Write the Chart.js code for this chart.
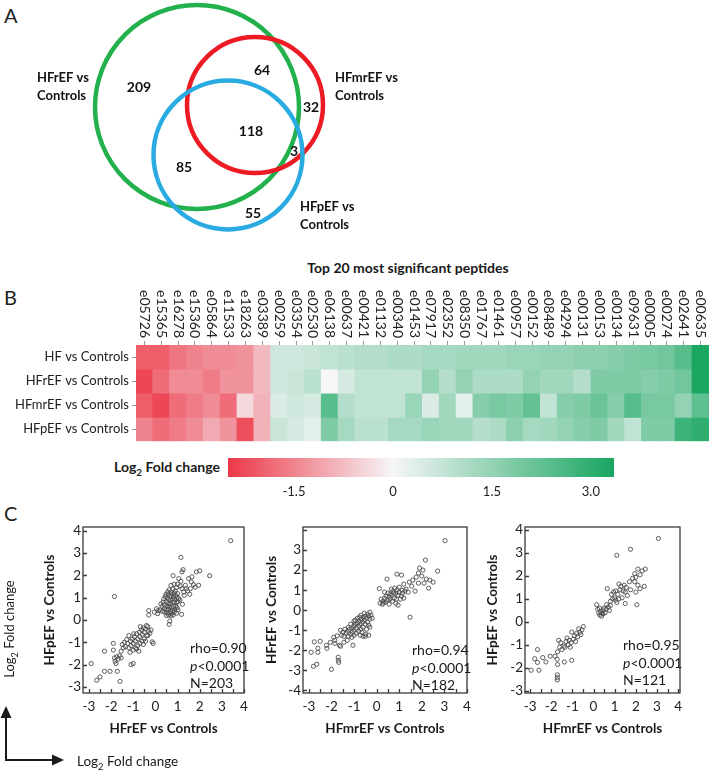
<!DOCTYPE html>
<html lang="en">
<head>
<meta charset="UTF-8">
<title>Peptide fold change</title>
<script src="https://cdn.jsdelivr.net/npm/chart.js"></script>
<style>
  body { margin: 0; background: #fff; font-family: Lato, sans-serif; color: #1a1a1a; }
  #page { position: relative; width: 709px; height: 770px; overflow: hidden; }
  canvas, .txt, svg { position: absolute; }
  .txt { white-space: nowrap; }
  .letter { font-size: 20px; line-height: 20px; color: #222; }
  .stat { font-size: 14px; line-height: 17.5px; color: #1a1a1a; }
  sub { font-size: 70%; line-height: 0; }
</style>
</head>
<body>
<div id="page">
  <div class="txt letter" style="left:4px;top:5px">A</div>
  <div class="txt letter" style="left:4px;top:287px">B</div>
  <div class="txt letter" style="left:4px;top:503px">C</div>

  <canvas id="venn" width="400" height="240" style="left:0;top:0"></canvas>

  <div class="txt" style="left:258px;top:259px;width:300px;text-align:center;font-weight:bold;font-size:14px;line-height:18px">Top 20 most significant peptides</div>
  <canvas id="heat" width="709" height="176" style="left:0;top:276px"></canvas>

  <div class="txt" style="left:80px;top:458px;width:140px;text-align:right;font-weight:bold;font-size:14px;line-height:18px">Log<sub>2</sub> Fold change</div>
  <canvas id="cbar" width="440" height="55" style="left:200px;top:452px"></canvas>

  <canvas id="sc1" width="215" height="230" style="left:40px;top:515px"></canvas>
  <canvas id="sc2" width="216" height="230" style="left:262px;top:515px"></canvas>
  <canvas id="sc3" width="208" height="230" style="left:483px;top:515px"></canvas>
  <div id="st1" class="txt stat" style="left:190px;top:639px"></div>
  <div id="st2" class="txt stat" style="left:412px;top:641px"></div>
  <div id="st3" class="txt stat" style="left:623px;top:636px"></div>

  <svg width="80" height="110" style="left:0;top:660px">
    <line x1="6" y1="100" x2="6" y2="57" stroke="#1a1a1a" stroke-width="2"/>
    <polygon points="6,46 0.5,58 11.5,58" fill="#1a1a1a"/>
    <line x1="5" y1="100" x2="53" y2="100" stroke="#1a1a1a" stroke-width="2"/>
    <polygon points="64,100 52,94.5 52,105.5" fill="#1a1a1a"/>
  </svg>
  <div class="txt" style="left:9px;top:629px;transform:translate(-50%,-50%) rotate(-90deg);font-size:13px">Log<sub>2</sub> Fold change</div>
  <div class="txt" style="left:77px;top:752px;font-size:13.5px;line-height:18px">Log<sub>2</sub> Fold change</div>
</div>

<script>
// ---------- A: Venn diagram ----------
const vennSets = ['HFrEF vs Controls', 'HFmrEF vs Controls', 'HFpEF vs Controls'];
const vennCx = [197, 255, 228];
const vennCy = [107, 105, 155];
const vennR = [102, 68, 74.5];
// regions: rEF only, rEF+mrEF, mrEF only, all three, mrEF+pEF, rEF+pEF, pEF only
const vennCounts = [209, 64, 32, 118, 3, 85, 55];

// ---------- B: heatmap ----------
const peptides = ['e05726', 'e15365', 'e16278', 'e15360', 'e05864', 'e11533', 'e18263', 'e03389',
  'e00259', 'e03354', 'e02530', 'e06138', 'e00637', 'e00421', 'e01132', 'e00340', 'e01453',
  'e07917', 'e02352', 'e08350', 'e01767', 'e01461', 'e00957', 'e00152', 'e08489', 'e04294',
  'e00131', 'e00153', 'e00134', 'e09631', 'e00005', 'e00274', 'e02641', 'e00635'];
const comparisons = ['HF vs Controls', 'HFrEF vs Controls', 'HFmrEF vs Controls', 'HFpEF vs Controls'];
const foldHF = [-2.0, -2.0, -1.7, -1.5, -1.4, -1.4, -1.3, -0.8, 0.6, 0.6, 0.7, 0.8, 0.9, 1.0, 1.0, 1.1, 1.1,
  1.2, 1.2, 1.3, 1.3, 1.3, 1.4, 1.4, 1.5, 1.5, 1.6, 1.6, 1.7, 1.8, 1.9, 2.0, 2.4, 3.3];
const foldHFrEF = [-2.3, -1.8, -1.4, -1.4, -1.6, -1.3, -1.3, -0.8, 0.6, 0.7, 0.9, 0.0, 0.5, 0.8, 0.8, 0.8, 0.8,
  1.5, 1.0, 1.5, 1.1, 1.1, 1.1, 1.5, 1.3, 1.3, 1.0, 1.8, 1.8, 1.8, 1.7, 1.8, 2.0, 3.3];
const foldHFmrEF = [-2.0, -2.3, -1.8, -1.6, -1.4, -1.8, -0.4, -0.9, 0.4, 0.6, 0.5, 2.4, 1.0, 0.8, 0.8, 0.8, 1.4,
  0.4, 1.3, 0.3, 1.7, 1.9, 1.8, 2.2, 0.8, 1.7, 1.8, 2.1, 1.7, 2.4, 1.9, 1.9, 1.5, 2.3];
const foldHFpEF = [-1.5, -1.8, -1.6, -1.4, -1.0, -1.3, -2.2, -0.9, 0.7, 0.5, 0.3, 1.8, 1.2, 0.9, 0.9, 1.2, 1.2,
  1.4, 1.3, 1.3, 1.0, 1.1, 1.6, 1.2, 1.3, 1.5, 1.7, 1.8, 1.3, 0.8, 1.8, 1.8, 2.8, 3.0];
const cbMin = -2.5, cbMax = 3.35;
const cbTicks = [-1.5, 0, 1.5, 3.0];

// ---------- C: scatter plots ----------
const hfrefVsHfpef = [
  [3.4, 3.55], [1.15, 2.8], [2.45, 1.98], [1.85, 2.15], [2.0, 2.2], [1.25, 2.25], [1.2, 2.15], [0.8, 1.98],
  [1.05, 1.85], [1.65, 1.93], [1.5, 1.85], [1.62, 1.7], [1.72, 1.58], [1.8, 1.47], [1.95, 1.55], [1.58, 1.4],
  [1.4, 1.4], [1.28, 1.25], [1.15, 1.73], [1.0, 1.6], [1.35, 1.55], [1.45, 1.3], [1.2, 1.4], [1.12, 1.52],
  [0.95, 1.45], [1.0, 1.18], [1.55, 1.15], [1.3, 1.1], [1.1, 0.9], [1.22, 0.7], [1.18, 0.25], [1.02, 0.45],
  [0.9, 1.3], [0.85, 1.2], [0.78, 1.38], [0.7, 1.25], [0.62, 1.35], [0.58, 1.12], [0.68, 1.05], [0.75, 1.15],
  [0.82, 1.05], [0.92, 1.1], [0.98, 1.0], [1.05, 0.95], [0.88, 0.92], [0.78, 0.95], [0.7, 0.88], [0.6, 0.92],
  [0.52, 0.98], [0.45, 1.05], [0.5, 0.82], [0.6, 0.75], [0.68, 0.7], [0.78, 0.78], [0.85, 0.8], [0.95, 0.78],
  [1.02, 0.82], [0.92, 0.62], [0.82, 0.6], [0.72, 0.55], [0.62, 0.6], [0.52, 0.62], [0.42, 0.68], [0.35, 0.8],
  [0.3, 0.6], [0.4, 0.52], [0.48, 0.45], [0.58, 0.48], [0.68, 0.4], [0.78, 0.42], [0.88, 0.48], [0.98, 0.55],
  [0.85, 0.35], [0.72, 0.3], [0.62, 0.32], [0.52, 0.3], [0.42, 0.35], [0.32, 0.38], [0.22, 0.45], [0.25, 0.72],
  [0.5, 0.2], [0.6, 0.22], [0.7, 0.18], [0.8, 0.22], [0.95, 0.3], [0.65, -0.05], [0.62, -0.2], [0.7, 1.55],
  [0.85, 1.6], [0.55, 1.25], [0.48, 1.15], [0.38, 0.95], [-0.05, 0.35], [0.1, 0.28], [0.12, 0.42], [-0.3, 0.22],
  [-0.3, 0.42], [0.05, 0.5],
  [-0.1, -1.05], [-0.15, -0.98], [-0.35, -0.3], [-0.4, -0.25], [-0.45, -0.4], [-0.3, -0.5], [-0.35, -0.7],
  [-0.5, -0.55], [-0.55, -0.35], [-0.6, -0.65], [-0.62, -0.45], [-0.7, -0.75], [-0.72, -0.55], [-0.8, -0.85],
  [-0.85, -0.62], [-0.9, -0.95], [-0.95, -0.75], [-1.0, -1.05], [-1.05, -0.85], [-1.1, -1.15], [-1.12, -0.95],
  [-1.2, -1.25], [-1.25, -1.05], [-1.3, -0.88], [-1.35, -1.2], [-1.4, -1.0], [-1.45, -1.25], [-1.5, -1.1],
  [-1.0, -1.35], [-0.9, -1.25], [-0.8, -1.15], [-0.7, -1.05], [-0.6, -0.95], [-0.5, -0.85], [-0.4, -0.7],
  [-0.25, -0.6], [-0.2, -0.45], [-0.55, -1.1], [-0.75, -1.4], [-1.15, -1.45], [-0.98, -0.62], [-0.68, -0.3],
  [-0.45, -0.95], [-0.85, -1.3], [-1.2, -0.7], [-1.55, -1.4],
  [-1.85, 1.05], [-1.9, -1.05], [-1.9, -1.35], [-2.3, -1.4], [-1.75, -1.65], [-1.68, -1.75], [-1.82, -1.85],
  [-1.62, -1.6], [-1.55, -1.7], [-1.78, -1.95], [-1.0, -1.95], [-1.1, -2.0], [-2.9, -1.95], [-2.3, -2.3],
  [-2.05, -2.3], [-1.72, -2.3], [-2.65, -2.7], [-2.5, -2.55], [-1.6, -2.75], [-1.85, -1.7]
];
const hfmrefVsHfref = [
  [3.03, 3.47], [2.16, 2.5], [2.7, 1.95], [2.5, 1.4], [2.35, 1.5], [2.2, 1.55], [2.05, 2.0], [1.9, 2.1],
  [1.85, 1.85], [2.0, 1.7], [1.75, 1.65], [1.6, 1.5], [1.55, 1.2], [1.85, 1.35], [2.1, 1.35], [2.3, 1.1],
  [1.7, 0.95], [1.4, 0.9], [1.3, 1.05], [1.45, 1.4], [1.2, 1.3], [1.1, 1.75], [0.9, 1.8], [0.46, 1.55],
  [0.12, 1.08], [0.2, 0.55], [0.28, 0.45], [0.35, 0.6], [0.4, 0.4], [0.48, 0.5], [0.55, 0.65], [0.6, 0.8],
  [0.68, 0.75], [0.72, 0.95], [0.78, 0.6], [0.85, 0.85], [0.9, 1.0], [0.95, 0.75], [1.0, 0.9], [1.05, 0.55],
  [1.1, 0.7], [1.15, 0.85], [1.2, 0.6], [1.25, 0.95], [0.65, 1.05], [0.8, 1.1], [0.55, 0.3], [0.7, 0.45],
  [0.85, 0.35], [0.95, 0.25], [0.42, 0.7], [0.3, 0.35], [0.15, 0.35], [0.25, 0.3], [0.6, 0.55], [0.75, 0.85],
  [1.0, 1.15], [0.88, 0.55], [1.12, 1.0], [0.5, 0.85], [0.35, 0.9], [1.48, -0.35],
  [-0.3, -0.1], [-0.25, -0.25], [-0.35, -0.3], [-0.3, -0.45], [-0.4, -0.2], [-0.45, -0.4], [-0.5, -0.3],
  [-0.55, -0.5], [-0.6, -0.35], [-0.62, -0.6], [-0.68, -0.45], [-0.72, -0.7], [-0.78, -0.55], [-0.8, -0.8],
  [-0.85, -0.65], [-0.9, -0.9], [-0.95, -0.7], [-1.0, -1.0], [-1.02, -0.8], [-1.08, -1.1], [-1.1, -0.9],
  [-1.15, -1.2], [-1.2, -0.95], [-1.25, -1.3], [-1.3, -1.05], [-1.35, -1.15], [-1.4, -0.95], [-1.45, -1.3],
  [-1.5, -1.1], [-1.6, -1.0], [-1.55, -1.25], [-0.4, -0.6], [-0.5, -0.7], [-0.6, -0.85], [-0.7, -0.95],
  [-0.8, -1.05], [-0.9, -1.15], [-1.0, -1.25], [-1.1, -1.35], [-0.35, -0.75], [-0.55, -0.15], [-0.7, -0.25],
  [-0.85, -0.4], [-1.0, -0.55], [-1.15, -0.7], [-0.45, -0.95], [-0.65, -1.1], [-0.75, -0.35], [-0.95, -0.5],
  [-1.25, -0.85], [-0.3, -0.85], [-0.48, -1.2], [-0.72, -1.25], [-0.35, -1.25], [-0.6, -1.3], [-1.05, -1.75],
  [-0.5, -1.3], [-0.2, -0.4],
  [-2.76, -1.58], [-2.5, -1.55], [-2.6, -1.9], [-2.6, -2.1], [-2.9, -2.1], [-2.8, -2.8], [-2.65, -2.7],
  [-2.0, -2.95], [-2.2, -1.9], [-2.22, -1.75], [-2.05, -1.6], [-1.85, -1.5], [-1.75, -1.28], [-1.65, -1.75],
  [-1.6, -1.8], [-1.7, -2.35], [-1.7, -2.5], [-1.68, -2.6], [-1.85, -1.65], [-1.45, -1.6], [-1.3, -1.5],
  [-1.9, -1.35]
];
const hfmrefVsHfpef = [
  [3.07, 3.63], [1.75, 3.16], [1.1, 2.9], [2.45, 2.3], [2.3, 2.22], [2.1, 2.3], [2.2, 2.05], [2.0, 1.95],
  [1.95, 2.1], [1.85, 1.9], [1.7, 1.75], [1.95, 1.75], [2.1, 1.6], [2.2, 1.45], [2.0, 1.3], [2.4, 1.55],
  [2.05, 0.75], [1.75, 1.4], [1.55, 1.5], [1.6, 1.15], [1.45, 1.6], [1.3, 1.55], [1.25, 1.4], [1.4, 1.35],
  [1.5, 1.3], [1.35, 1.05], [1.15, 1.2], [1.05, 1.35], [0.95, 1.3], [0.85, 1.2], [0.8, 0.9], [0.65, 1.45],
  [1.0, 1.05], [1.1, 0.85], [0.9, 1.0], [1.2, 1.0], [1.5, 0.8], [1.2, 1.65], [1.05, 0.95],
  [0.15, 0.75], [0.2, 0.55], [0.25, 0.4], [0.3, 0.3], [0.35, 0.45], [0.4, 0.38], [0.45, 0.52], [0.5, 0.6],
  [0.55, 0.4], [0.6, 0.55], [0.7, 0.65], [0.75, 0.5], [0.8, 0.72], [0.62, 0.75], [0.45, 0.35], [0.28, 0.6],
  [0.38, 0.25],
  [-0.48, -0.2], [-0.55, -0.35], [-0.65, -0.45], [-0.7, -0.3], [-0.8, -0.5], [-0.9, -0.6], [-1.03, -0.44],
  [-0.95, -0.75], [-1.05, -0.9], [-1.15, -0.8], [-1.2, -1.0], [-1.3, -0.85], [-1.4, -1.05], [-1.5, -1.2],
  [-1.6, -1.1], [-1.65, -0.8], [-1.7, -1.3], [-1.35, -1.1], [-1.25, -0.7], [-0.85, -0.85], [-0.75, -0.65],
  [-0.6, -0.55], [-1.1, -1.1], [-1.55, -0.9],
  [-2.65, -1.2], [-2.78, -1.6], [-2.65, -1.76], [-2.95, -2.1], [-2.58, -2.1], [-2.25, -1.74], [-2.05, -1.49],
  [-1.82, -1.49], [-1.72, -1.62], [-1.7, -1.85], [-1.38, -1.74], [-1.03, -1.67], [-1.71, -2.3], [-1.71, -2.42],
  [-1.71, -2.52], [-2.4, -1.55]
];
const rhoValues = ['0.90', '0.94', '0.95'];
const nValues = [203, 182, 121];
const axisTicks = [-4, -3, -2, -1, 0, 1, 2, 3, 4];

Chart.defaults.font.family = 'Lato';
Chart.defaults.color = '#222';

// ---------- Venn ----------
const vennColors = ['#22b14c', '#ed1c24', '#29abe2'];
const countPos = [[139, 87], [262, 70], [311, 107], [251, 131], [294, 151], [184, 167], [253, 213]];
const setLabelPos = [[37, 78], [335, 78], [300, 207]];

const vennText = {
  id: 'vennText',
  afterDatasetsDraw(chart) {
    const { ctx, scales: { x, y } } = chart;
    ctx.save();
    ctx.fillStyle = '#111';
    ctx.textBaseline = 'middle';
    ctx.font = 'bold 14px Lato';
    ctx.textAlign = 'center';
    vennCounts.forEach((n, i) => {
      ctx.fillText(String(n), x.getPixelForValue(countPos[i][0]), y.getPixelForValue(countPos[i][1]));
    });
    ctx.font = 'bold 13px Lato';
    ctx.textAlign = 'left';
    vennSets.forEach((name, i) => {
      name.replace(' vs ', ' vs|').split('|').forEach((line, k) => {
        ctx.fillText(line, x.getPixelForValue(setLabelPos[i][0]), y.getPixelForValue(setLabelPos[i][1] + k * 18));
      });
    });
    ctx.restore();
  }
};

new Chart(document.getElementById('venn'), {
  type: 'bubble',
  data: {
    datasets: [{
      data: vennCx.map((cx, i) => ({ x: cx, y: vennCy[i], r: vennR[i] })),
      borderColor: vennColors,
      backgroundColor: 'rgba(0,0,0,0)',
      borderWidth: 4.5,
      clip: false
    }]
  },
  options: {
    responsive: false, animation: false, events: [],
    layout: { padding: 0, autoPadding: false },
    plugins: { legend: { display: false }, tooltip: { enabled: false } },
    scales: {
      x: { display: false, min: 0, max: 400 },
      y: { display: false, min: 0, max: 240, reverse: true }
    }
  },
  plugins: [vennText]
});

// ---------- heatmap ----------
function foldColor(v) {
  const white = [246, 246, 248], red = [236, 56, 72], green = [24, 166, 96];
  const end = v < 0 ? red : green;
  const t = Math.min(1, v < 0 ? v / cbMin : v / cbMax);
  const c = white.map((w, k) => Math.round(w + (end[k] - w) * t));
  return `rgb(${c[0]},${c[1]},${c[2]})`;
}

const foldRows = [foldHF, foldHFrEF, foldHFmrEF, foldHFpEF];

const peptideLabels = {
  id: 'peptideLabels',
  afterDraw(chart) {
    const { ctx, chartArea, scales: { x } } = chart;
    ctx.save();
    ctx.font = '14px Lato';
    ctx.fillStyle = '#222';
    ctx.textAlign = 'right';
    ctx.textBaseline = 'middle';
    peptides.forEach((p, i) => {
      ctx.save();
      ctx.translate(x.getPixelForValue(i), chartArea.top - 7);
      ctx.rotate(Math.PI / 2);
      ctx.fillText(p, 0, 0);
      ctx.restore();
    });
    ctx.restore();
  }
};

new Chart(document.getElementById('heat'), {
  type: 'bar',
  data: {
    labels: peptides,
    datasets: foldRows.map((vals, r) => ({
      label: comparisons[r],
      data: vals.map(() => [r, r + 1]),
      backgroundColor: vals.map(foldColor),
      borderWidth: 0,
      barPercentage: 1,
      categoryPercentage: 1,
      grouped: false,
      inflateAmount: 0.5
    }))
  },
  options: {
    responsive: false, animation: false, events: [],
    layout: { padding: { top: 0, right: 0, bottom: 3, left: 0 } },
    plugins: { legend: { display: false }, tooltip: { enabled: false } },
    scales: {
      x: {
        position: 'top',
        offset: true,
        ticks: { display: false },
        grid: { display: true, drawOnChartArea: false, drawTicks: true, tickLength: 4, offset: false, color: '#999' },
        border: { display: false },
        afterFit: s => { s.height = 69; }
      },
      y: {
        min: 0, max: 4, reverse: true,
        afterBuildTicks: s => { s.ticks = comparisons.map((_, i) => ({ value: i + 0.5 })); },
        ticks: { callback: (v, i) => comparisons[i], font: { size: 13 }, color: '#222', padding: 3, autoSkip: false },
        grid: { drawOnChartArea: false, tickLength: 4, color: '#999' },
        border: { display: false },
        afterFit: s => { s.width = 136; }
      }
    }
  },
  plugins: [peptideLabels]
});

// ---------- colour bar ----------
new Chart(document.getElementById('cbar'), {
  type: 'bar',
  data: {
    labels: [''],
    datasets: [{
      data: [[cbMin, cbMax]],
      barPercentage: 1,
      categoryPercentage: 1,
      borderWidth: 0,
      backgroundColor: ctx => {
        const { chart } = ctx;
        const xs = chart.scales.x;
        if (!chart.chartArea || !xs) return foldColor(0);
        const g = chart.ctx.createLinearGradient(xs.getPixelForValue(cbMin), 0, xs.getPixelForValue(cbMax), 0);
        for (let v = cbMin; v <= cbMax + 1e-9; v += 0.05) {
          g.addColorStop(Math.min(1, (v - cbMin) / (cbMax - cbMin)), foldColor(v));
        }
        return g;
      }
    }]
  },
  options: {
    indexAxis: 'y',
    responsive: false, animation: false, events: [],
    layout: { padding: { top: 6, right: 26, left: 28, bottom: 0 } },
    plugins: { legend: { display: false }, tooltip: { enabled: false } },
    scales: {
      x: {
        min: cbMin, max: cbMax,
        afterBuildTicks: s => { s.ticks = cbTicks.map(v => ({ value: v })); },
        ticks: { callback: v => (v === 0 ? '0' : v.toFixed(1)), font: { size: 13 }, color: '#222', padding: 7 },
        grid: { display: false, drawTicks: false },
        border: { display: false },
        afterFit: s => { s.height = 30; }
      },
      y: { display: false }
    }
  }
});

// ---------- scatter plots ----------
const framePlugin = {
  id: 'frame',
  afterDraw(chart) {
    const { ctx, chartArea: a, scales: { x, y } } = chart;
    ctx.save();
    ctx.strokeStyle = '#3a3a3a';
    ctx.lineWidth = 1.3;
    ctx.strokeRect(a.left, a.top, a.right - a.left, a.bottom - a.top);
    ctx.beginPath();
    for (let v = Math.ceil(x.min * 2) / 2; v <= x.max + 1e-9; v += 0.5) {
      const px = Math.round(x.getPixelForValue(v)) + 0.5;
      ctx.moveTo(px, a.bottom);
      ctx.lineTo(px, a.bottom - 4);
    }
    for (let v = Math.ceil(y.min); v <= y.max + 1e-9; v += 1) {
      const py = Math.round(y.getPixelForValue(v)) + 0.5;
      ctx.moveTo(a.left, py);
      ctx.lineTo(a.left + 4, py);
    }
    ctx.stroke();
    ctx.restore();
  }
};

function scatterPanel(id, pts, xTitle, yTitle, xr, yr, yTicks, yWidth) {
  return new Chart(document.getElementById(id), {
    type: 'scatter',
    data: {
      datasets: [{
        data: pts.map(p => ({ x: p[0], y: p[1] })),
        pointRadius: 2.1,
        pointBorderWidth: 0.9,
        pointBorderColor: '#4d4d4d',
        pointBackgroundColor: 'rgba(255,255,255,0)'
      }]
    },
    options: {
      responsive: false, animation: false, events: [],
      layout: { padding: { top: 12, right: 11, left: 0, bottom: 0 } },
      plugins: { legend: { display: false }, tooltip: { enabled: false } },
      scales: {
        x: {
          type: 'linear', min: xr[0], max: xr[1],
          afterBuildTicks: s => { s.ticks = axisTicks.filter(v => v >= xr[0] && v <= xr[1] + 0.01).map(v => ({ value: v })); },
          afterFit: s => { s.height = 52; },
          grid: { display: false, drawTicks: false },
          border: { display: false },
          ticks: { padding: 6, font: { size: 13.5 }, color: '#222', maxRotation: 0 },
          title: { display: true, text: xTitle, font: { size: 13.5, weight: 'bold' }, color: '#1a1a1a', padding: { top: 0, bottom: 8 } }
        },
        y: {
          type: 'linear', min: yr[0], max: yr[1],
          afterBuildTicks: s => { s.ticks = yTicks.map(v => ({ value: v })); },
          afterFit: s => { s.width = yWidth; },
          grid: { display: false, drawTicks: false },
          border: { display: false },
          ticks: { padding: 2, font: { size: 13.5 }, color: '#222' },
          title: { display: true, text: yTitle, font: { size: 13.5, weight: 'bold' }, color: '#1a1a1a', padding: { top: 2, bottom: 0 } }
        }
      }
    },
    plugins: [framePlugin]
  });
}

scatterPanel('sc1', hfrefVsHfpef, 'HFrEF vs Controls', 'HFpEF vs Controls',
  [-3.27, 4.0], [-3.27, 4.16], [-3, -2, -1, 0, 1, 2, 3, 4], 43);
scatterPanel('sc2', hfmrefVsHfref, 'HFmrEF vs Controls', 'HFrEF vs Controls',
  [-3.26, 4.0], [-4.13, 4.15], [-4, -3, -2, -1, 0, 1, 2, 3], 41);
scatterPanel('sc3', hfmrefVsHfpef, 'HFmrEF vs Controls', 'HFpEF vs Controls',
  [-3.24, 4.09], [-3.09, 4.13], [-3, -2, -1, 0, 1, 2, 3, 4], 42);

rhoValues.forEach((rho, i) => {
  document.getElementById('st' + (i + 1)).innerHTML =
    `rho=${rho}<br><i>p</i>&lt;0.0001<br>N=${nValues[i]}`;
});
</script>
</body>
</html>
